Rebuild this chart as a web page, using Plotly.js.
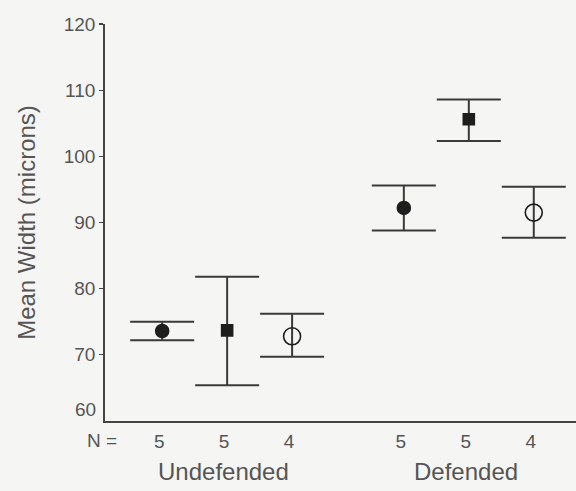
<!DOCTYPE html>
<html>
<head>
<meta charset="utf-8">
<script src="https://cdn.plot.ly/plotly-3.0.1.min.js"></script>
<style>html,body{margin:0;padding:0;background:#f5f5f3;}#chart{width:576px;height:491px;}</style>
</head>
<body>
<div id="chart"></div>
<script>
// ---- data ----
const groups = ['Undefended', 'Defended'];
const nLabels = ['5', '5', '4', '5', '5', '4'];
const yTicks = [60, 70, 80, 90, 100, 110, 120];

const circleMean  = [73.6, 92.2];
const circleUpper = [75.0, 95.6];
const circleLower = [72.2, 88.8];

const squareMean  = [73.7, 105.6];
const squareUpper = [81.8, 108.6];
const squareLower = [65.4, 102.3];

const openMean  = [72.8, 91.5];
const openUpper = [76.2, 95.4];
const openLower = [69.7, 87.7];

// ---- layout helpers ----
const groupStep = 3.72;
function slot(g, s) { return 1 + g * groupStep + s; }

const seriesDefs = [
  {mean: circleMean, up: circleUpper, lo: circleLower, s: 0, symbol: 'circle', size: 13},
  {mean: squareMean, up: squareUpper, lo: squareLower, s: 1, symbol: 'square', size: 11},
  {mean: openMean, up: openUpper, lo: openLower, s: 2, symbol: 'circle-open', size: 17}
];

const traces = seriesDefs.map(d => ({
  type: 'scatter',
  mode: 'markers',
  x: groups.map((_, g) => slot(g, d.s)),
  y: d.mean,
  marker: {symbol: d.symbol, size: d.size, color: '#1e1e1e', line: {color: '#1e1e1e', width: 1.6}},
  error_y: {
    type: 'data', symmetric: false,
    array: d.up.map((u, i) => u - d.mean[i]),
    arrayminus: d.mean.map((m, i) => m - d.lo[i]),
    color: '#3a3a3a', thickness: 2, width: 32
  },
  showlegend: false,
  hoverinfo: 'skip'
}));

const tickPos = [];
groups.forEach((_, g) => { for (let s = 0; s < 3; s++) tickPos.push(slot(g, s)); });

const textColor = '#555';
const font = 'Liberation Sans, Arial, sans-serif';

const layout = {
  width: 576, height: 491,
  paper_bgcolor: '#f5f5f3', plot_bgcolor: '#f5f5f3',
  margin: {l: 105, r: 0, t: 24, b: 70, pad: 0},
  font: {family: font, color: textColor},
  xaxis: {
    range: [0.12, 7.37],
    showline: true, linecolor: '#444', linewidth: 1.8,
    showgrid: false, zeroline: false,
    tickvals: tickPos, ticktext: nLabels,
    ticks: '', tickfont: {size: 19, color: textColor, family: font},
    ticklabelshift: -3, ticklabelstandoff: 2,
    fixedrange: true
  },
  yaxis: {
    range: [60, 120],
    showline: true, linecolor: '#444', linewidth: 1.8,
    showgrid: false, zeroline: false,
    tickvals: yTicks.slice(1), ticktext: yTicks.slice(1).map(String),
    ticks: 'outside', ticklen: 4, tickcolor: '#444', tickwidth: 1.2,
    tickfont: {size: 19, color: textColor, family: font},
    title: {text: 'Mean Width (microns)', font: {size: 24, color: textColor, family: font}, standoff: 21},
    fixedrange: true
  },
  annotations: [
    {text: String(yTicks[0]), xref: 'paper', yref: 'y', x: 0, y: yTicks[0], xanchor: 'right', yanchor: 'middle',
     xshift: -7, yshift: 12, showarrow: false, font: {size: 19, color: textColor, family: font}},
    {text: 'N =', xref: 'paper', yref: 'paper', x: 0, y: 0, xanchor: 'center', yanchor: 'middle',
     xshift: -3, yshift: -19, showarrow: false, font: {size: 19, color: textColor, family: font}},
    {text: groups[0], xref: 'x', yref: 'paper', x: slot(0, 1) - 0.05, y: 0, xanchor: 'center', yanchor: 'middle',
     yshift: -50, showarrow: false, font: {size: 24, color: textColor, family: font}},
    {text: groups[1], xref: 'x', yref: 'paper', x: slot(1, 1) - 0.05, y: 0, xanchor: 'center', yanchor: 'middle',
     yshift: -50, showarrow: false, font: {size: 24, color: textColor, family: font}}
  ]
};

Plotly.newPlot('chart', traces, layout, {displayModeBar: false, staticPlot: true});
</script>
</body>
</html>
